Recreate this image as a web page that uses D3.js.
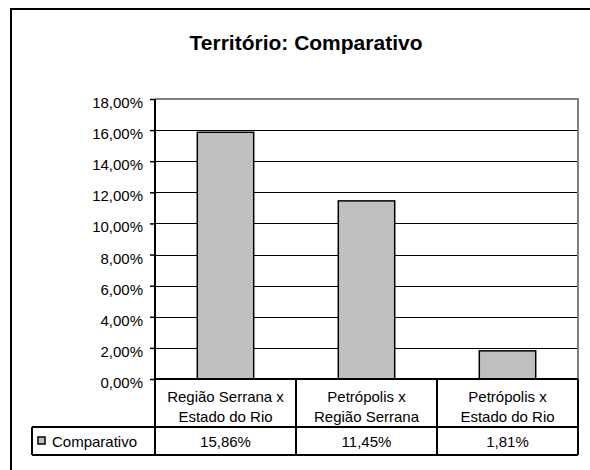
<!DOCTYPE html>
<html>
<head>
<meta charset="utf-8">
<script src="https://cdn.jsdelivr.net/npm/d3@7/dist/d3.min.js"></script>
<style>
  html, body { margin: 0; padding: 0; background: #fff; }
  svg { display: block; font-family: "Liberation Sans", Arial, sans-serif; }
</style>
</head>
<body>
<svg id="chart" width="590" height="470"></svg>
<script>
// Chart data
const title = "Território: Comparativo";
const seriesName = "Comparativo";
const categories = [
  ["Região Serrana x", "Estado do Rio"],
  ["Petrópolis x", "Região Serrana"],
  ["Petrópolis x", "Estado do Rio"]
];
const values = [0.1586, 0.1145, 0.0181];
const yTicks = [0, 0.02, 0.04, 0.06, 0.08, 0.10, 0.12, 0.14, 0.16, 0.18];

// Brazilian-style number formatting (comma decimal)
const ptBR = d3.formatLocale({ decimal: ",", thousands: ".", grouping: [3], currency: ["R$", ""] });
const pct = ptBR.format(".2%");

const svg = d3.select("#chart");
const catKeys = categories.map(c => c.join(" "));

const plot = { left: 155, right: 578, top: 99, bottom: 379 };
const tableMid = 427, tableBottom = 455, legendLeft = 32;

const x = d3.scaleBand()
  .domain(catKeys)
  .range([plot.left, plot.right])
  .paddingInner(0.6)
  .paddingOuter(0.3);
const y = d3.scaleLinear().domain([0, 0.18]).range([plot.bottom, plot.top]);

// Outer chart-area frame
svg.append("rect")
  .attr("x", 11).attr("y", 9)
  .attr("width", 620).attr("height", 500)
  .attr("fill", "#fff").attr("stroke", "#000").attr("stroke-width", 2);

// Title
svg.append("text")
  .attr("x", 306).attr("y", 50)
  .attr("text-anchor", "middle")
  .attr("font-size", 21).attr("font-weight", "bold")
  .text(title);

// Horizontal gridlines
svg.append("g")
  .selectAll("line")
  .data(yTicks.filter(t => t > 0 && t < 0.18))
  .join("line")
  .attr("x1", plot.left).attr("x2", plot.right)
  .attr("y1", d => Math.round(y(d)) + 0.5).attr("y2", d => Math.round(y(d)) + 0.5)
  .attr("stroke", "#000").attr("stroke-width", 1);

// Plot-area border (top and right)
svg.append("path")
  .attr("d", `M${plot.left},${plot.top}H${plot.right}V${plot.bottom}`)
  .attr("fill", "none").attr("stroke", "#808080").attr("stroke-width", 2);

// Bars
svg.append("g")
  .selectAll("rect")
  .data(values)
  .join("rect")
  .attr("x", (d, i) => x(catKeys[i]))
  .attr("y", d => y(d))
  .attr("width", x.bandwidth())
  .attr("height", d => y(0) - y(d))
  .attr("fill", "#C0C0C0").attr("stroke", "#000").attr("stroke-width", 1.5);

// Y axis
const yAxis = d3.axisLeft(y)
  .tickValues(yTicks)
  .tickSize(5)
  .tickFormat(pct);
const gy = svg.append("g")
  .attr("transform", `translate(${plot.left},0)`)
  .call(yAxis);
gy.select(".domain").attr("stroke", "#000").attr("stroke-width", 2)
  .attr("d", `M0,${plot.top}V${plot.bottom}`);
gy.selectAll(".tick line").attr("stroke", "#000").attr("stroke-width", 1.5);
gy.selectAll(".tick text")
  .attr("x", -12).attr("dy", null).attr("y", 8.5)
  .attr("font-size", 15).attr("font-family", "'Liberation Sans', Arial, sans-serif")
  .attr("fill", "#000");

// Data table beneath the plot
const table = svg.append("g").attr("stroke", "#000").attr("stroke-width", 2).attr("fill", "none");
const step = x.step();
const colEdges = catKeys.map((k, i) => plot.left + i * step).concat([plot.right]);
// horizontal rules
table.append("line").attr("x1", plot.left).attr("x2", plot.right).attr("y1", plot.bottom).attr("y2", plot.bottom);
table.append("line").attr("x1", legendLeft).attr("x2", plot.right).attr("y1", tableMid).attr("y2", tableMid);
table.append("line").attr("x1", legendLeft).attr("x2", plot.right).attr("y1", tableBottom).attr("y2", tableBottom);
// vertical rules
table.selectAll(".col")
  .data(colEdges)
  .join("line")
  .attr("class", "col")
  .attr("x1", d => d).attr("x2", d => d)
  .attr("y1", plot.bottom).attr("y2", tableBottom);
table.append("line").attr("x1", legendLeft).attr("x2", legendLeft).attr("y1", tableMid).attr("y2", tableBottom);

// Category labels (two lines each)
const catText = svg.append("g")
  .selectAll("text")
  .data(categories)
  .join("text")
  .attr("text-anchor", "middle")
  .attr("font-size", 15)
  .attr("x", (d, i) => x(catKeys[i]) + x.bandwidth() / 2);
catText.selectAll("tspan")
  .data(d => d)
  .join("tspan")
  .attr("x", function () { return this.parentNode.getAttribute("x"); })
  .attr("y", (d, j) => 402 + j * 20)
  .text(d => d);

// Value row
svg.append("g")
  .selectAll("text")
  .data(values)
  .join("text")
  .attr("text-anchor", "middle")
  .attr("font-size", 15)
  .attr("x", (d, i) => x(catKeys[i]) + x.bandwidth() / 2)
  .attr("y", 447)
  .text(d => pct(d));

// Legend key and series name
svg.append("rect")
  .attr("x", 38).attr("y", 437).attr("width", 7).attr("height", 7)
  .attr("fill", "#C0C0C0").attr("stroke", "#000").attr("stroke-width", 1.5);
svg.append("text")
  .attr("x", 52).attr("y", 447)
  .attr("font-size", 15)
  .text(seriesName);
</script>
</body>
</html>
